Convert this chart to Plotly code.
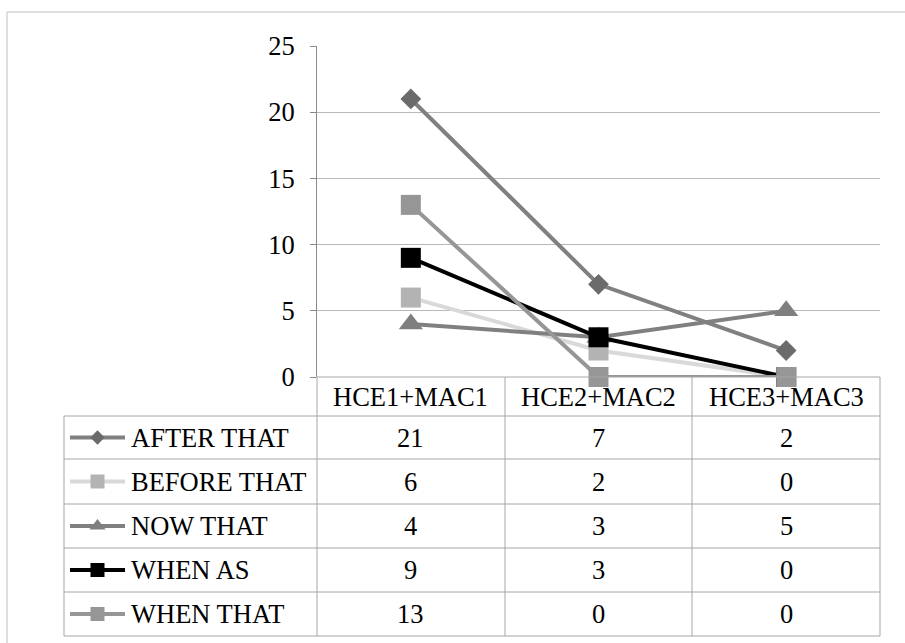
import plotly.graph_objects as go

# ---- data ----
categories = ["HCE1+MAC1", "HCE2+MAC2", "HCE3+MAC3"]
series_names = ["AFTER THAT", "BEFORE THAT", "NOW THAT", "WHEN AS", "WHEN THAT"]
after_that = [21, 7, 2]
before_that = [6, 2, 0]
now_that = [4, 3, 5]
when_as = [9, 3, 0]
when_that = [13, 0, 0]
series_values = [after_that, before_that, now_that, when_as, when_that]
y_ticks = [0, 5, 10, 15, 20, 25]

# ---- styles ----
line_colors = ["#808080", "#d9d9d9", "#808080", "#000000", "#969696"]
marker_colors = ["#6b6b6b", "#b3b3b3", "#7f7f7f", "#000000", "#969696"]
symbols = ["diamond", "square", "triangle-up", "square", "square"]
marker_sizes = [16, 20, 21, 20, 20]
legend_marker_sizes = [11, 14, 14, 14, 14]

W, H = 905, 643
FONT = "Liberation Serif, Times New Roman, serif"
FS = 26.5


def fx(px):
    return px / W


def fy(py):
    return 1 - py / H


PLOT_L, PLOT_R, PLOT_T, PLOT_B = 317, 880, 46, 377
col_edges = [317, 505, 692, 880]
row_edges = [416, 459, 504, 548, 592, 636]
TABLE_L = 64
GRID = "#a6a6a6"

fig = go.Figure()

for name, vals, lc, mc, sym, ms in zip(series_names, series_values, line_colors,
                                       marker_colors, symbols, marker_sizes):
    fig.add_trace(go.Scatter(
        x=list(range(len(categories))), y=vals, mode="lines+markers", name=name,
        line=dict(color=lc, width=4), marker=dict(symbol=sym, size=ms, color=mc),
        cliponaxis=False, showlegend=False, xaxis="x", yaxis="y"))

# legend swatches in the table's first column (pixel-space helper axes)
for i, (name, lc, mc, sym, ms) in enumerate(zip(series_names, line_colors, marker_colors,
                                                symbols, legend_marker_sizes)):
    yc = (row_edges[i] + row_edges[i + 1]) / 2
    fig.add_trace(go.Scatter(
        x=[70, 125], y=[yc, yc], mode="lines", line=dict(color=lc, width=4),
        showlegend=False, xaxis="x2", yaxis="y2", hoverinfo="skip"))
    fig.add_trace(go.Scatter(
        x=[97.5], y=[yc], mode="markers", marker=dict(symbol=sym, size=ms, color=mc),
        showlegend=False, xaxis="x2", yaxis="y2", hoverinfo="skip"))

shapes = []
shapes.append(dict(type="rect", xref="paper", yref="paper", x0=fx(7), y0=fy(12),
                   x1=fx(930), y1=fy(700), line=dict(color="#bfbfbf", width=1)))
shapes.append(dict(type="line", xref="paper", yref="paper", x0=fx(PLOT_L), x1=fx(PLOT_R),
                   y0=fy(PLOT_B), y1=fy(PLOT_B), line=dict(color=GRID, width=1)))
for r in row_edges:
    shapes.append(dict(type="line", xref="paper", yref="paper", x0=fx(TABLE_L), x1=fx(PLOT_R),
                       y0=fy(r), y1=fy(r), line=dict(color=GRID, width=1)))
for c in col_edges:
    shapes.append(dict(type="line", xref="paper", yref="paper", x0=fx(c), x1=fx(c),
                       y0=fy(PLOT_B), y1=fy(row_edges[-1]), line=dict(color=GRID, width=1)))
shapes.append(dict(type="line", xref="paper", yref="paper", x0=fx(TABLE_L), x1=fx(TABLE_L),
                   y0=fy(row_edges[0]), y1=fy(row_edges[-1]), line=dict(color=GRID, width=1)))

annotations = []
hdr_y = (PLOT_B + row_edges[0]) / 2
for j, cat in enumerate(categories):
    annotations.append(dict(text=cat, x=j, xref="x", y=fy(hdr_y), yref="paper",
                            showarrow=False, xanchor="center", yanchor="middle",
                            font=dict(family=FONT, size=FS, color="#000")))
for i, (name, vals) in enumerate(zip(series_names, series_values)):
    yc = (row_edges[i] + row_edges[i + 1]) / 2
    annotations.append(dict(text=name, x=fx(129), xref="paper", y=fy(yc), yref="paper",
                            showarrow=False, xanchor="left", yanchor="middle",
                            font=dict(family=FONT, size=FS, color="#000")))
    for j, v in enumerate(vals):
        annotations.append(dict(text=str(v), x=j, xref="x", y=fy(yc), yref="paper",
                                showarrow=False, xanchor="center", yanchor="middle",
                                font=dict(family=FONT, size=FS, color="#000")))

fig.update_layout(
    width=W, height=H, margin=dict(l=0, r=0, t=0, b=0, autoexpand=False),
    paper_bgcolor="white", plot_bgcolor="rgba(0,0,0,0)",
    font=dict(family=FONT, size=FS, color="#000"),
    xaxis=dict(domain=[fx(PLOT_L), fx(PLOT_R)], range=[-0.5, len(categories) - 0.5],
               showticklabels=False, showgrid=False, zeroline=False, showline=False,
               fixedrange=True, automargin=False),
    yaxis=dict(domain=[fy(PLOT_B), fy(PLOT_T)], range=[0, 25], tickvals=y_ticks,
               showgrid=True, gridcolor="#b8b8b8", gridwidth=1, zeroline=False,
               showline=True, linecolor="#8a8a8a", linewidth=1,
               ticks="outside", ticklen=6, tickcolor="#8a8a8a",
               ticklabelstandoff=10, automargin=False,
               tickfont=dict(family=FONT, size=FS, color="#000")),
    xaxis2=dict(domain=[0, 1], range=[0, W], visible=False, anchor="y2", automargin=False),
    yaxis2=dict(domain=[0, 1], range=[H, 0], visible=False, anchor="x2", automargin=False),
    shapes=shapes, annotations=annotations, showlegend=False,
)

fig.write_html(
    "out.html",
    config={"displayModeBar": False},
    post_script="document.body.style.margin='0';document.body.style.overflow='hidden';",
)
